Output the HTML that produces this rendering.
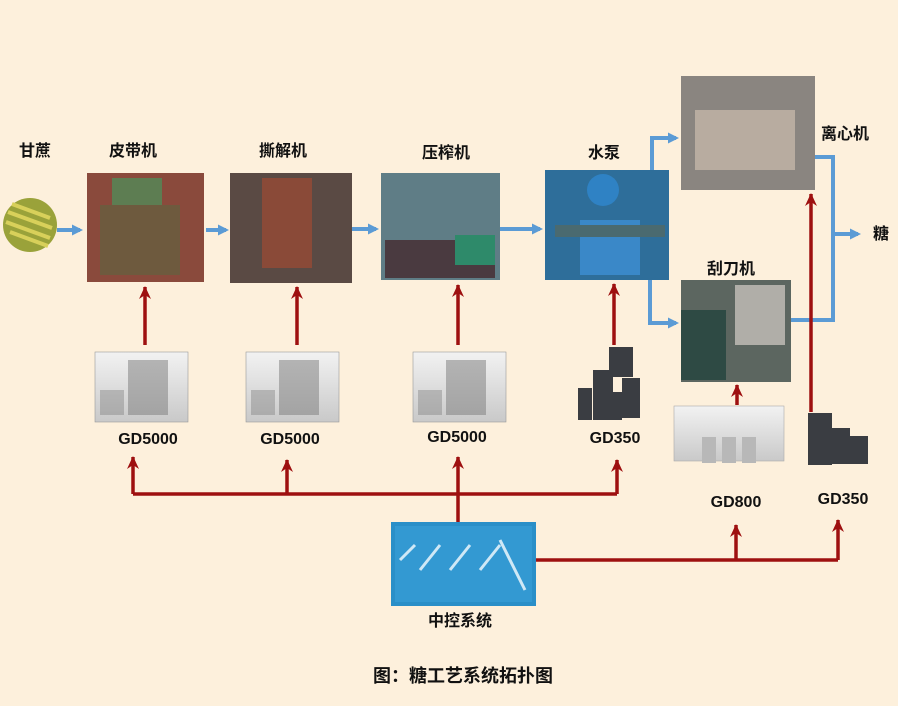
<!DOCTYPE html>
<html><head><meta charset="utf-8"><style>
html,body{margin:0;padding:0;background:#fdf0dc;}
svg{display:block}
text{font-family:"Liberation Sans","Noto Sans CJK SC",sans-serif;font-weight:bold;fill:#111;}
</style></head><body>
<svg width="898" height="706" viewBox="0 0 898 706" xmlns="http://www.w3.org/2000/svg">
<defs>
<marker id="ab" markerWidth="11" markerHeight="11" refX="8" refY="5.5" orient="auto" markerUnits="userSpaceOnUse"><path d="M0,0 L11,5.5 L0,11 z" fill="#5b9bd5"/></marker>
<marker id="ar" markerWidth="14" markerHeight="12" refX="12" refY="6" orient="auto" markerUnits="userSpaceOnUse"><path d="M0,0 L13,6 L0,12 L4,6 z" fill="#9e1010"/></marker>
<linearGradient id="cab" x1="0" x2="0" y1="0" y2="1"><stop offset="0" stop-color="#f2f2f2"/><stop offset="1" stop-color="#c9c9c9"/></linearGradient>
</defs>
<rect width="898" height="706" fill="#fdf0dc"/>

<text x="35" y="156" font-size="16" text-anchor="middle">甘蔗</text>
<text x="133" y="156" font-size="16" text-anchor="middle">皮带机</text>
<text x="283" y="156" font-size="16" text-anchor="middle">撕解机</text>
<text x="446" y="158" font-size="16" text-anchor="middle">压榨机</text>
<text x="604" y="158" font-size="16" text-anchor="middle">水泵</text>
<text x="845" y="139" font-size="16" text-anchor="middle">离心机</text>
<text x="731" y="274" font-size="16" text-anchor="middle">刮刀机</text>
<text x="881" y="239" font-size="16" text-anchor="middle">糖</text>

<circle cx="30" cy="225" r="27" fill="#9aa23a"/>
<path d="M8,212 L52,228 M6,222 L50,238 M10,232 L48,246 M12,204 L50,218" stroke="#d8d05a" stroke-width="4"/>

<rect x="87" y="173" width="117" height="109" fill="#8a4a3c"/>
<rect x="112" y="178" width="50" height="30" fill="#5d7d52"/>
<rect x="100" y="205" width="80" height="70" fill="#6e5a3e"/>
<rect x="230" y="173" width="122" height="110" fill="#5a4a44"/>
<rect x="262" y="178" width="50" height="90" fill="#8a4a38"/>
<rect x="381" y="173" width="119" height="107" fill="#5f7d86"/>
<rect x="385" y="240" width="110" height="38" fill="#4a3a40"/>
<rect x="455" y="235" width="40" height="30" fill="#2e8a6a"/>
<rect x="545" y="170" width="124" height="110" fill="#2e6e9a"/>
<circle cx="603" cy="190" r="16" fill="#2f82c4"/>
<rect x="580" y="220" width="60" height="55" fill="#3a88c8"/>
<rect x="555" y="225" width="110" height="12" fill="#4a6a70"/>
<rect x="681" y="76" width="134" height="114" fill="#8a8580"/>
<rect x="695" y="110" width="100" height="60" fill="#b8aca0"/>
<rect x="681" y="280" width="110" height="102" fill="#5c6660"/>
<rect x="735" y="285" width="50" height="60" fill="#b0aea8"/>
<rect x="681" y="310" width="45" height="70" fill="#2e4a44"/>

<g stroke="#5b9bd5" stroke-width="4" fill="none">
<line x1="57" y1="230" x2="80" y2="230" marker-end="url(#ab)"/>
<line x1="206" y1="230" x2="226" y2="230" marker-end="url(#ab)"/>
<line x1="352" y1="229" x2="376" y2="229" marker-end="url(#ab)"/>
<line x1="500" y1="229" x2="540" y2="229" marker-end="url(#ab)"/>
<polyline points="652,170 652,138 676,138" marker-end="url(#ab)"/>
<polyline points="650,280 650,323 676,323" marker-end="url(#ab)"/>
<polyline points="815,157 833,157 833,320 791,320"/>
<line x1="833" y1="234" x2="858" y2="234" marker-end="url(#ab)"/>
</g>

<g stroke="#9e1010" stroke-width="3.5" fill="none">
<line x1="145" y1="345" x2="145" y2="287" marker-end="url(#ar)"/>
<line x1="297" y1="345" x2="297" y2="287" marker-end="url(#ar)"/>
<line x1="458" y1="345" x2="458" y2="285" marker-end="url(#ar)"/>
<line x1="614" y1="345" x2="614" y2="284" marker-end="url(#ar)"/>
<line x1="811" y1="412" x2="811" y2="194" marker-end="url(#ar)"/>
<line x1="737" y1="405" x2="737" y2="385" marker-end="url(#ar)"/>
<polyline points="133,494 617,494"/>
<line x1="133" y1="494" x2="133" y2="457" marker-end="url(#ar)"/>
<line x1="287" y1="494" x2="287" y2="460" marker-end="url(#ar)"/>
<line x1="458" y1="522" x2="458" y2="457" marker-end="url(#ar)"/>
<line x1="617" y1="494" x2="617" y2="460" marker-end="url(#ar)"/>
<polyline points="536,560 838,560"/>
<line x1="736" y1="560" x2="736" y2="525" marker-end="url(#ar)"/>
<line x1="838" y1="560" x2="838" y2="520" marker-end="url(#ar)"/>
</g>

<g>
<rect x="95" y="352" width="93" height="70" fill="url(#cab)" stroke="#999" stroke-width="0.6"/>
<rect x="128" y="360" width="40" height="55" fill="#7a7a7a" opacity="0.5"/>
<rect x="100" y="390" width="24" height="25" fill="#7a7a7a" opacity="0.4"/>
<rect x="246" y="352" width="93" height="70" fill="url(#cab)" stroke="#999" stroke-width="0.6"/>
<rect x="279" y="360" width="40" height="55" fill="#7a7a7a" opacity="0.5"/>
<rect x="251" y="390" width="24" height="25" fill="#7a7a7a" opacity="0.4"/>
<rect x="413" y="352" width="93" height="70" fill="url(#cab)" stroke="#999" stroke-width="0.6"/>
<rect x="446" y="360" width="40" height="55" fill="#7a7a7a" opacity="0.5"/>
<rect x="418" y="390" width="24" height="25" fill="#7a7a7a" opacity="0.4"/>
</g>
<text x="148" y="444" font-size="16" text-anchor="middle">GD5000</text>
<text x="290" y="444" font-size="16" text-anchor="middle">GD5000</text>
<text x="457" y="442" font-size="16" text-anchor="middle">GD5000</text>

<g fill="#3a3d42">
<rect x="609" y="347" width="24" height="30"/>
<rect x="593" y="370" width="20" height="50"/>
<rect x="622" y="378" width="18" height="40"/>
<rect x="578" y="388" width="14" height="32"/>
<rect x="610" y="392" width="12" height="28"/>
<rect x="808" y="413" width="24" height="52"/>
<rect x="832" y="428" width="18" height="36"/>
<rect x="850" y="436" width="18" height="28"/>
</g>
<text x="615" y="443" font-size="16" text-anchor="middle">GD350</text>
<text x="843" y="504" font-size="16" text-anchor="middle">GD350</text>

<rect x="674" y="406" width="110" height="55" fill="url(#cab)" stroke="#aaa" stroke-width="0.6"/>
<rect x="702" y="437" width="14" height="26" fill="#b8b8b8"/>
<rect x="722" y="437" width="14" height="26" fill="#b8b8b8"/>
<rect x="742" y="437" width="14" height="26" fill="#b8b8b8"/>
<text x="736" y="507" font-size="16" text-anchor="middle">GD800</text>

<rect x="391" y="522" width="145" height="84" fill="#2a8fc8"/>
<rect x="395" y="526" width="137" height="76" fill="#3aa0d8" opacity="0.6"/>
<path d="M400,560 L415,545 M420,570 L440,545 M450,570 L470,545 M480,570 L500,545 M500,540 L525,590" stroke="#cfe8f6" stroke-width="3"/>
<text x="460" y="626" font-size="16" text-anchor="middle">中控系统</text>

<text x="463" y="682" font-size="18" text-anchor="middle">图：糖工艺系统拓扑图</text>
</svg>
</body></html>
